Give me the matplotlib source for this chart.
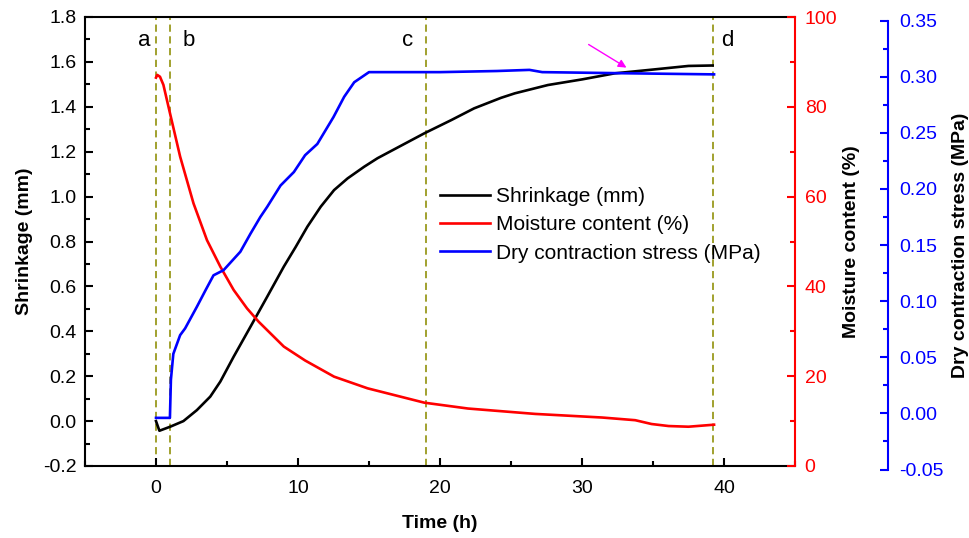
import matplotlib
matplotlib.use("Agg")
import matplotlib.pyplot as plt
from matplotlib.ticker import MultipleLocator, FormatStrFormatter

plt.rcParams['font.family'] = ['Liberation Sans', 'DejaVu Sans']

# ---- data ----
shrink_t = [0.0, 0.24, 1.0, 1.93, 2.88, 3.82, 4.53, 5.47, 6.65, 7.83, 9.0, 9.83, 10.66,
            11.6, 12.54, 13.49, 14.66, 15.6, 16.55, 18.9, 20.8, 22.4, 24.3, 25.27, 27.6, 30.0,
            32.3, 34.7, 37.5, 39.2]
shrink_v = [0.0, -0.043, -0.025, 0.0, 0.049, 0.109, 0.176, 0.287, 0.42, 0.554, 0.688, 0.775, 0.866,
            0.955, 1.029, 1.081, 1.133, 1.171, 1.203, 1.282, 1.341, 1.393, 1.44, 1.46, 1.497, 1.522,
            1.549, 1.564, 1.582, 1.584]

moist_t = [0.0, 0.09, 0.28, 0.52, 0.99, 1.70, 2.64, 3.59, 4.53, 5.47, 6.41, 7.24, 9.0, 10.5,
           12.54, 14.9, 18.9, 21.97, 26.7, 31.4, 33.75, 34.9, 36.1, 37.5, 39.3]
moist_v = [86.5, 87.1, 86.7, 84.9, 78.5, 68.9, 58.5, 50.3, 44.4, 39.2, 35.1, 32.1, 26.6, 23.5,
           19.9, 17.3, 14.1, 12.8, 11.6, 10.8, 10.2, 9.35, 8.9, 8.75, 9.2]

stress_t = [0.0, 0.98, 1.05, 1.22, 1.70, 2.05, 2.88, 3.5, 4.05, 4.76, 5.94, 6.65, 7.35, 7.83, 8.77,
            9.71, 10.5, 11.36, 12.5, 13.25, 13.96, 15.0, 20.0, 24.0, 26.3, 27.2, 33.0, 39.3]
stress_v = [-0.004, -0.004, 0.03, 0.053, 0.0697, 0.0757, 0.095, 0.110, 0.123, 0.1276, 0.144, 0.160, 0.175, 0.184, 0.203,
            0.215, 0.23, 0.240, 0.264, 0.282, 0.295, 0.304, 0.304, 0.305, 0.306, 0.304, 0.303, 0.302]

stage_t = [0.0, 1.0, 19.0, 39.25]
stage_labels = ['a', 'b', 'c', 'd']
stage_label_x = [-0.85, 2.3, 17.7, 40.25]

series_names = ['Shrinkage (mm)', 'Moisture content (%)', 'Dry contraction stress (MPa)']

W, H = 970, 538
fig = plt.figure(figsize=(W / 100, H / 100), dpi=100)
L, R, T, B = 85 / W, 795 / W, 17 / H, 466 / H
ax = fig.add_axes([L, 1 - B, R - L, B - T])
ax2 = ax.twinx()
shift = 3.5 / H
ax3 = fig.add_axes([L, 1 - B - shift, R - L, B - T], sharex=ax)
ax3.patch.set_visible(False)

lw = 1.9
l1, = ax.plot(shrink_t, shrink_v, color='black', lw=lw)
l2, = ax2.plot(moist_t, moist_v, color='red', lw=lw)
l3, = ax3.plot(stress_t, stress_v, color='blue', lw=lw)

ax.set_xlim(-5, 45)
ax.set_ylim(-0.2, 1.8)
ax2.set_ylim(0, 100)
ax3.set_ylim(-0.05, 0.35)

for xs in stage_t:
    ax.axvline(xs, color='#9a9a1e', lw=1.3, ls=(0, (4, 2.5)), zorder=1)
for xs, lab in zip(stage_label_x, stage_labels):
    ax.text(xs, 1.695, lab, fontsize=16, ha='center', va='center')

ax.annotate('', xy=(33.3, 1.568), xytext=(30.3, 1.684),
            arrowprops=dict(arrowstyle='-|>', color='#ff00ff', lw=1.0, mutation_scale=12))

tick_fs = 14
ax.xaxis.set_major_locator(MultipleLocator(10))
ax.xaxis.set_minor_locator(MultipleLocator(5))
ax.yaxis.set_major_locator(MultipleLocator(0.2))
ax.yaxis.set_minor_locator(MultipleLocator(0.1))
ax.yaxis.set_major_formatter(FormatStrFormatter('%.1f'))
ax.tick_params(axis='both', which='both', direction='in', labelsize=tick_fs, width=1.5)
ax.tick_params(axis='both', which='major', length=6)
ax.tick_params(axis='both', which='minor', length=3.5)
ax.tick_params(axis='x', pad=10)
ax.tick_params(axis='y', pad=6)
ax.tick_params(top=False, right=False, which='both')
for s in ax.spines.values():
    s.set_linewidth(1.5)
ax.spines['right'].set_visible(False)

ax2.yaxis.set_major_locator(MultipleLocator(20))
ax2.yaxis.set_minor_locator(MultipleLocator(10))
ax2.tick_params(axis='y', which='both', direction='in', colors='red', labelsize=tick_fs, width=1.5, pad=7)
ax2.tick_params(axis='y', which='major', length=6)
ax2.tick_params(axis='y', which='minor', length=3.5)
for k in ['left', 'top', 'bottom']:
    ax2.spines[k].set_visible(False)
ax2.spines['right'].set_color('red')
ax2.spines['right'].set_linewidth(1.5)

for k in ['left', 'top', 'bottom']:
    ax3.spines[k].set_visible(False)
ax3.spines['right'].set_position(('outward', 93 * 0.72))
ax3.spines['right'].set_color('blue')
ax3.spines['right'].set_linewidth(1.5)
ax3.yaxis.tick_right()
ax3.yaxis.set_label_position('right')
ax3.yaxis.set_major_locator(MultipleLocator(0.05))
ax3.yaxis.set_minor_locator(MultipleLocator(0.025))
ax3.yaxis.set_major_formatter(FormatStrFormatter('%.2f'))
ax3.tick_params(axis='y', which='both', direction='in', colors='blue', labelsize=tick_fs, width=1.5, pad=8)
ax3.tick_params(axis='y', which='major', length=6)
ax3.tick_params(axis='y', which='minor', length=3.5)
ax3.tick_params(axis='x', which='both', bottom=False, labelbottom=False)

lab_fs = 14
ax.set_xlabel('Time (h)', fontsize=lab_fs, fontweight='bold', labelpad=13)
ax.set_ylabel('Shrinkage (mm)', fontsize=lab_fs, fontweight='bold', labelpad=7)
ax2.set_ylabel('Moisture content (%)', fontsize=lab_fs, fontweight='bold', labelpad=4)
ax3.set_ylabel('Dry contraction stress (MPa)', fontsize=lab_fs, fontweight='bold', labelpad=6)

fig.legend([l1, l2, l3], series_names, loc='upper left', bbox_to_anchor=(440 / W, 1 - 187 / H),
           frameon=False, fontsize=15, handlelength=2.4, handletextpad=0.3, labelspacing=0.45,
           borderpad=0, borderaxespad=0)

fig.savefig('out.png', dpi=100)
